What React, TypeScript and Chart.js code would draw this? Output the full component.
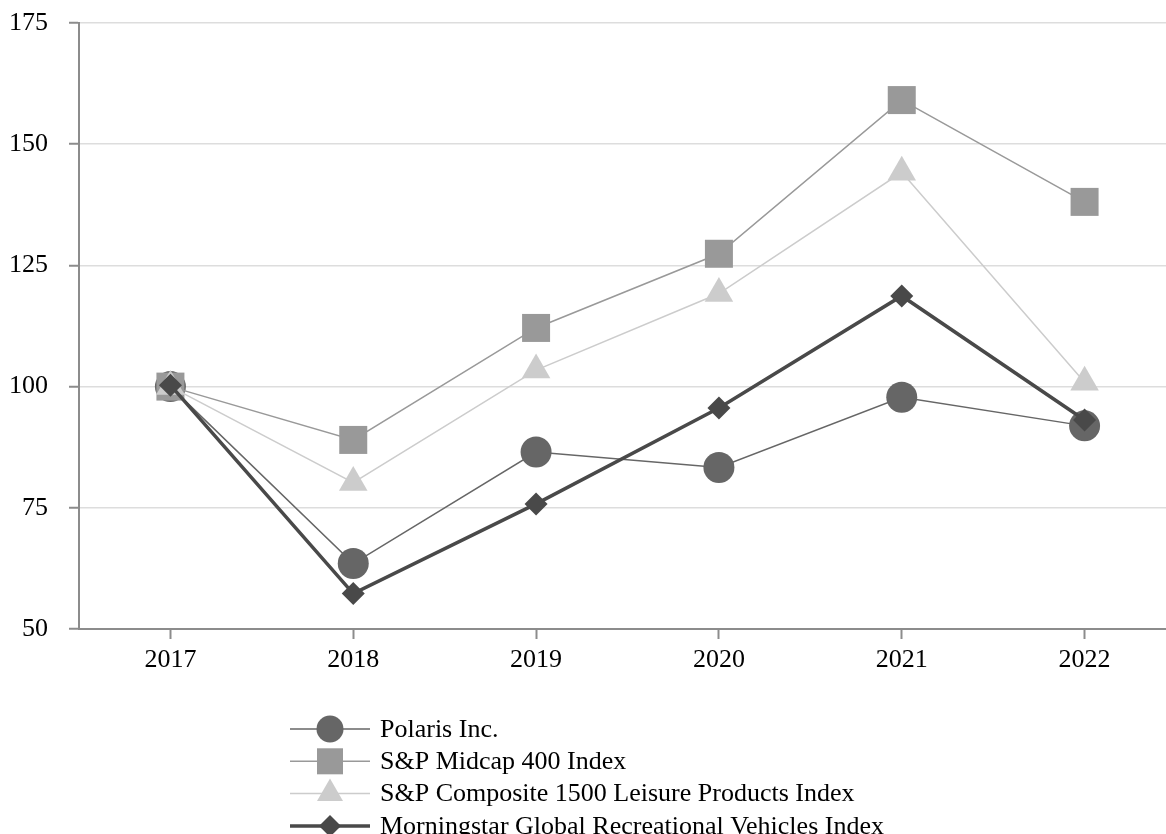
import React, { useEffect, useRef } from 'react';
import { Chart, registerables } from 'chart.js';
import { drawPoint } from 'chart.js/helpers';

Chart.register(...registerables);

const years = ['2017', '2018', '2019', '2020', '2021', '2022'];
const seriesNames = [
  'Polaris Inc.',
  'S&P Midcap 400 Index',
  'S&P Composite 1500 Leisure Products Index',
  'Morningstar Global Recreational Vehicles Index',
];
const polaris = [100, 63.5, 86.5, 83.3, 97.8, 91.9];
const midcap = [100, 89.0, 112.1, 127.4, 159.1, 138.1];
const leisure = [100, 80.2, 103.4, 119.2, 144.2, 100.9];
const morningstar = [100.3, 57.3, 75.8, 95.6, 118.7, 93.1];
const yMin = 50;
const yMax = 175;
const yStep = 25;

const FONT = '"Liberation Serif", "Times New Roman", serif';
const FONT_SIZE = 26;

const styles = [
  { color: '#666666', width: 1.5, pointStyle: 'circle', radius: 15.5, legendRadius: 13.5 },
  { color: '#999999', width: 1.5, pointStyle: 'rect', radius: 19.8, legendRadius: 18.4 },
  { color: '#cccccc', width: 1.5, pointStyle: 'triangle', radius: 16.5, legendRadius: 15 },
  { color: '#494949', width: 3.5, pointStyle: 'rectRot', radius: 11.5, legendRadius: 11 },
];

const legendPlugin = {
  id: 'customLegend',
  afterDraw(chart: any) {
    const ctx = chart.ctx;
    const rows = [729, 761.3, 793.6, 825.9];
    const lineX0 = 290;
    const lineX1 = 370;
    const markX = 330;
    const textX = 380;
    ctx.save();
    chart.data.datasets.forEach((ds: any, i: number) => {
      const st = styles[i];
      const y = rows[i];
      ctx.strokeStyle = st.color;
      ctx.lineWidth = st.width;
      ctx.beginPath();
      ctx.moveTo(lineX0, y);
      ctx.lineTo(lineX1, y);
      ctx.stroke();
      ctx.fillStyle = st.color;
      drawPoint(ctx, { pointStyle: st.pointStyle, radius: st.legendRadius, rotation: 0, borderWidth: 0 } as any, markX, y);
      ctx.fillStyle = '#000000';
      ctx.font = `${FONT_SIZE}px ${FONT}`;
      ctx.textBaseline = 'middle';
      ctx.textAlign = 'left';
      ctx.fillText(ds.label, textX, y + 1);
    });
    ctx.restore();
  },
};

export default function App() {
  const ref = useRef<HTMLCanvasElement | null>(null);

  useEffect(() => {
    if (!ref.current) return;
    const all = [polaris, midcap, leisure, morningstar];
    const chart = new Chart(ref.current, {
      type: 'line',
      data: {
        labels: years,
        datasets: all.map((d, i) => ({
          label: seriesNames[i],
          data: d,
          borderColor: styles[i].color,
          backgroundColor: styles[i].color,
          borderWidth: styles[i].width,
          pointStyle: styles[i].pointStyle as any,
          pointRadius: styles[i].radius,
          pointBorderWidth: 0,
          pointBackgroundColor: styles[i].color,
          pointBorderColor: styles[i].color,
          tension: 0,
          order: 4 - i,
          clip: false as any,
        })),
      },
      options: {
        responsive: false,
        animation: false,
        layout: { autoPadding: false, padding: { top: 23, left: 0, right: 0, bottom: 0 } },
        plugins: {
          legend: { display: false },
          tooltip: { enabled: false },
        },
        scales: {
          x: {
            type: 'category',
            offset: true,
            grid: {
              display: true,
              drawOnChartArea: false,
              drawTicks: true,
              tickLength: 10,
              tickColor: '#8c8c8c',
              tickWidth: 2,
              offset: false,
            },
            border: { display: true, color: '#8c8c8c', width: 2 },
            ticks: {
              color: '#000000',
              padding: 6,
              maxRotation: 0,
              font: { family: FONT, size: FONT_SIZE },
            },
            afterFit(scale: any) {
              scale.height = 205;
              scale.paddingLeft = 0;
              scale.paddingRight = 0;
            },
          },
          y: {
            min: yMin,
            max: yMax,
            grid: {
              color: '#dddddd',
              lineWidth: 1.5,
              drawTicks: true,
              tickLength: 10,
              tickColor: '#8c8c8c',
              tickWidth: 2,
            },
            border: { display: true, color: '#8c8c8c', width: 2 },
            ticks: {
              stepSize: yStep,
              color: '#000000',
              padding: 21,
              font: { family: FONT, size: FONT_SIZE },
            },
            afterFit(scale: any) {
              scale.width = 79;
              scale.paddingTop = 0;
              scale.paddingBottom = 0;
            },
          },
        },
      },
      plugins: [legendPlugin],
    });
    return () => chart.destroy();
  }, []);

  return (
    <div style={{ position: 'fixed', left: 0, top: 0, width: 1176, height: 834, background: '#ffffff' }}>
      <canvas ref={ref} width={1176} height={834} style={{ display: 'block' }} />
    </div>
  );
}
